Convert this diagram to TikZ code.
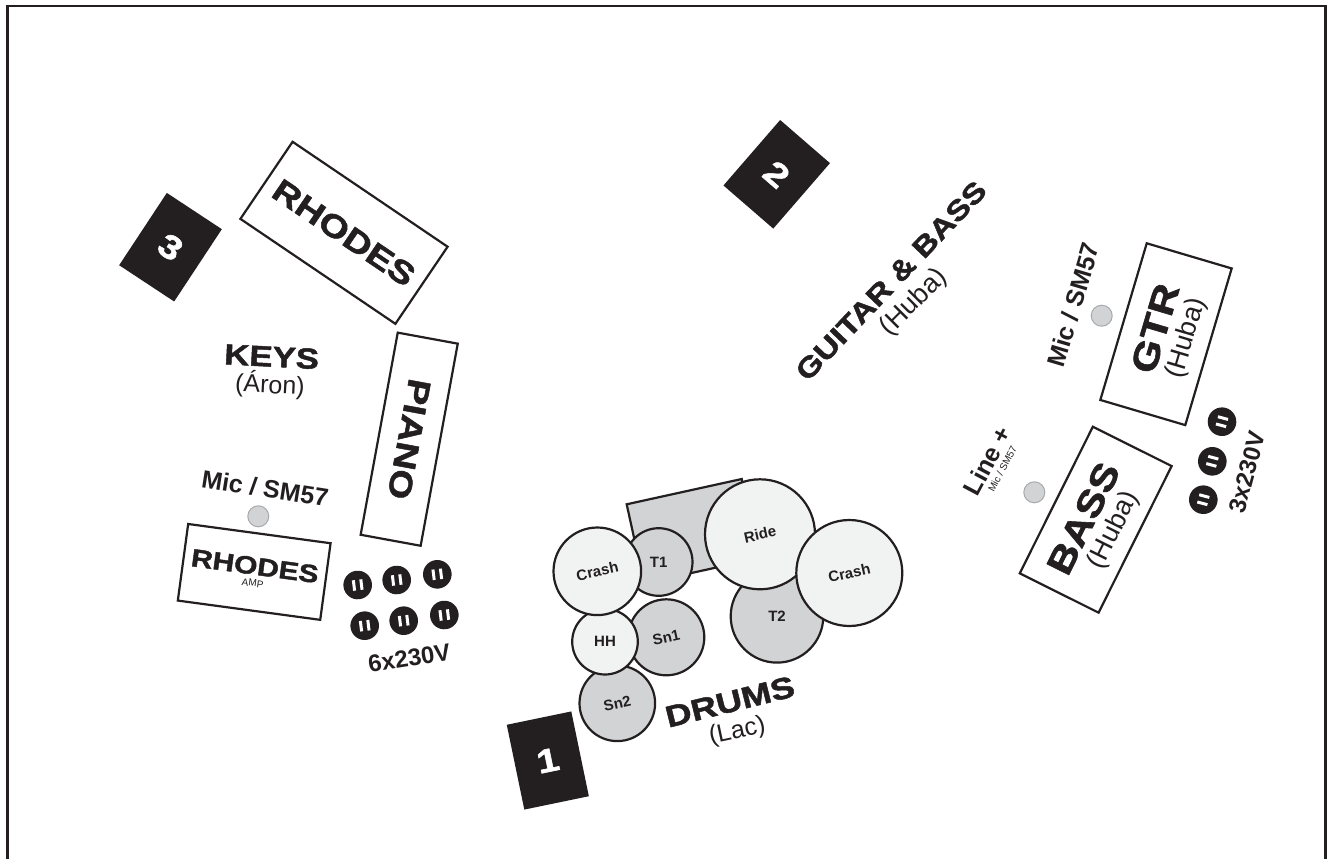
\documentclass[tikz,border=0pt]{standalone}
\usepackage{fontspec}
\setmainfont{Liberation Sans}
\newfontfamily\blkfont[FakeBold=1.6,FakeStretch=1.2]{Liberation Sans Bold}
\newfontfamily\bldfont{Liberation Sans Bold}
\newfontfamily\regfont{Liberation Sans}
\definecolor{ink}{HTML}{231F20}
\definecolor{drum}{HTML}{D1D3D4}
\definecolor{cym}{HTML}{F1F2F2}
\definecolor{micline}{HTML}{A7A9AC}
\newcommand{\fs}[1]{\fontsize{#1}{#1}\selectfont}
\newcommand{\lh}[2]{\fontsize{#1}{#2}\selectfont}
\tikzset{
  every node/.style={text=ink,inner sep=0pt,outer sep=0pt},
  plate/.style={draw=ink,line width=2.2pt,fill=white,minimum width=#1,inner sep=0pt},
  tag/.style={fill=ink,minimum width=65.9pt,minimum height=86.6pt,text=white},
  drumc/.style={circle,draw=ink,line width=2.2pt,fill=drum,minimum size=#1},
  cymc/.style={circle,draw=ink,line width=2.2pt,fill=cym,minimum size=#1},
  micc/.style={circle,draw=micline,line width=1pt,fill=drum,minimum size=21pt},
  sock/.style={circle,fill=ink,minimum size=28.6pt,text=white},
  drumlab/.style={font=\bldfont\fs{15}},
}
\newcommand{\slots}{\textcolor{white}{\rule{3pt}{10.5pt}\hspace{4.5pt}\rule{3pt}{10.5pt}}}
\begin{document}
\begin{tikzpicture}[x=1pt,y=-1pt]
\useasboundingbox (0,0) rectangle (1332,859);
\draw[ink,line width=2.6pt] (7.5,859) -- (7.5,6) -- (1325.5,6) -- (1325.5,859);

% number tags
\node[tag,rotate=11.7] (t1) at (547.8,760.5) {\blkfont\fs{33}1};
\node[tag,rotate=-40.9] (t2) at (776.7,174.3) {\blkfont\fs{33}2};
\node[tag,rotate=-33.4] (t3) at (170.5,247.2) {\blkfont\fs{33}3};

% plates
\node[plate=187.2pt,minimum height=93.1pt,rotate=-34.1] (rhodes) at (344,232.8) {\blkfont\fs{32}RHODES};
\node[plate=205.5pt,minimum height=61pt,rotate=-100.4] (piano) at (409.2,439.2) {\blkfont\fs{32}PIANO};
\node[plate=143.7pt,minimum height=77.3pt,rotate=-7.7,align=center] (amp) at (254.2,571.9) {\blkfont\lh{25}{23.5}RHODES\\AMP};
\node[plate=163.4pt,minimum height=88.6pt,rotate=73.5] (gtr) at (1166,334.2) {};
\node[plate=163.8pt,minimum height=88.1pt,rotate=63.5] (bass) at (1095.7,519.7) {};
\node[rotate=73.5] (gtrt) at (1155,328.3) {\blkfont\fs{36}GTR};
\node[rotate=73.5] (gtrh) at (1186.5,338.3) {\regfont\fs{27}(Huba)};
\node[rotate=63.5] (basst) at (1083.3,518.3) {\blkfont\fs{36}BASS};
\node[rotate=63.5] (bassh) at (1114,530) {\regfont\fs{27}(Huba)};

% drum kit
\node[draw=ink,line width=2.2pt,fill=drum,minimum width=117.8pt,minimum height=81pt,rotate=12.4] (kit) at (692.9,531.2) {};
\node[drumc=67.6pt] (tom1) at (658.7,562) {\bldfont\fs{15}T1};
\node[drumc=92.6pt] (tom2) at (777,616.3) {\bldfont\fs{15}T2};
\node[cymc=110pt] (ride) at (760,534.3) {};
\node[cymc=106pt] (crashr) at (849.3,573) {};
\node[drumc=76pt] (sn1) at (666.3,637.3) {};
\node[drumc=75.6pt] (sn2) at (617.3,703.3) {};
\node[cymc=65.6pt] (hh) at (605,641.7) {};
\node[cymc=87.6pt] (crashl) at (597.3,571.3) {};
\node[rotate=12.4,drumlab] at (ride) {Ride};
\node[rotate=12.4,drumlab] at (crashr) {Crash};
\node[rotate=12.4,drumlab] at (crashl) {Crash};
\node[rotate=12.4,drumlab] at (sn1) {Sn1};
\node[rotate=12.4,drumlab] at (sn2) {Sn2};
\node[rotate=0,drumlab] at (hh) {HH};

% labels
\node[rotate=-3] (keys) at (271.7,356.7) {\blkfont\fs{29}KEYS};
\node[rotate=-3] (aron) at (270,385) {\regfont\fs{25}(Áron)};
\node[rotate=14] (drums) at (730,701.7) {\blkfont\fs{30}DRUMS};
\node[rotate=12] (lac) at (737.3,731.7) {\regfont\fs{25}(Lac)};
\node[rotate=46.5] (gb) at (891,280.7) {\blkfont\fs{28}GUITAR \& BASS};
\node[rotate=45] (gbh) at (914,302.7) {\regfont\fs{27}(Huba)};

% mics
\node[micc] (m1) at (258.3,516.3) {};
\node[micc] (m2) at (1101.7,315.7) {};
\node[micc] (m3) at (1034.3,492.3) {};
\node[rotate=-9] (ml1) at (265,488.3) {\bldfont\fs{25}Mic / SM57};
\node[rotate=73.5] (ml2) at (1073.3,305) {\bldfont\fs{25}Mic / SM57};
\node[rotate=62,align=center] (ml3) at (992.3,463.7) {\bldfont\lh{25}{27}Line +\\Mic / SM57};

% sockets
\foreach \n/\x/\y in {a/357.7/585,b/396.7/580,c/437.3/574.3,d/364.7/625.7,e/403.7/620.7,f/444.3/615}
  \node[sock,rotate=7] (s\n) at (\x,\y) {\slots};
\foreach \n/\x/\y in {g/1222/421.7,h/1212.3/461.3,i/1203.3/499.7}
  \node[sock,rotate=75] (s\n) at (\x,\y) {\slots};
\node[rotate=9] (v6) at (409.3,658.3) {\bldfont\fs{24}6x230V};
\node[rotate=75] (v3) at (1247,472) {\bldfont\fs{24}3x230V};
\end{tikzpicture}
\end{document}
